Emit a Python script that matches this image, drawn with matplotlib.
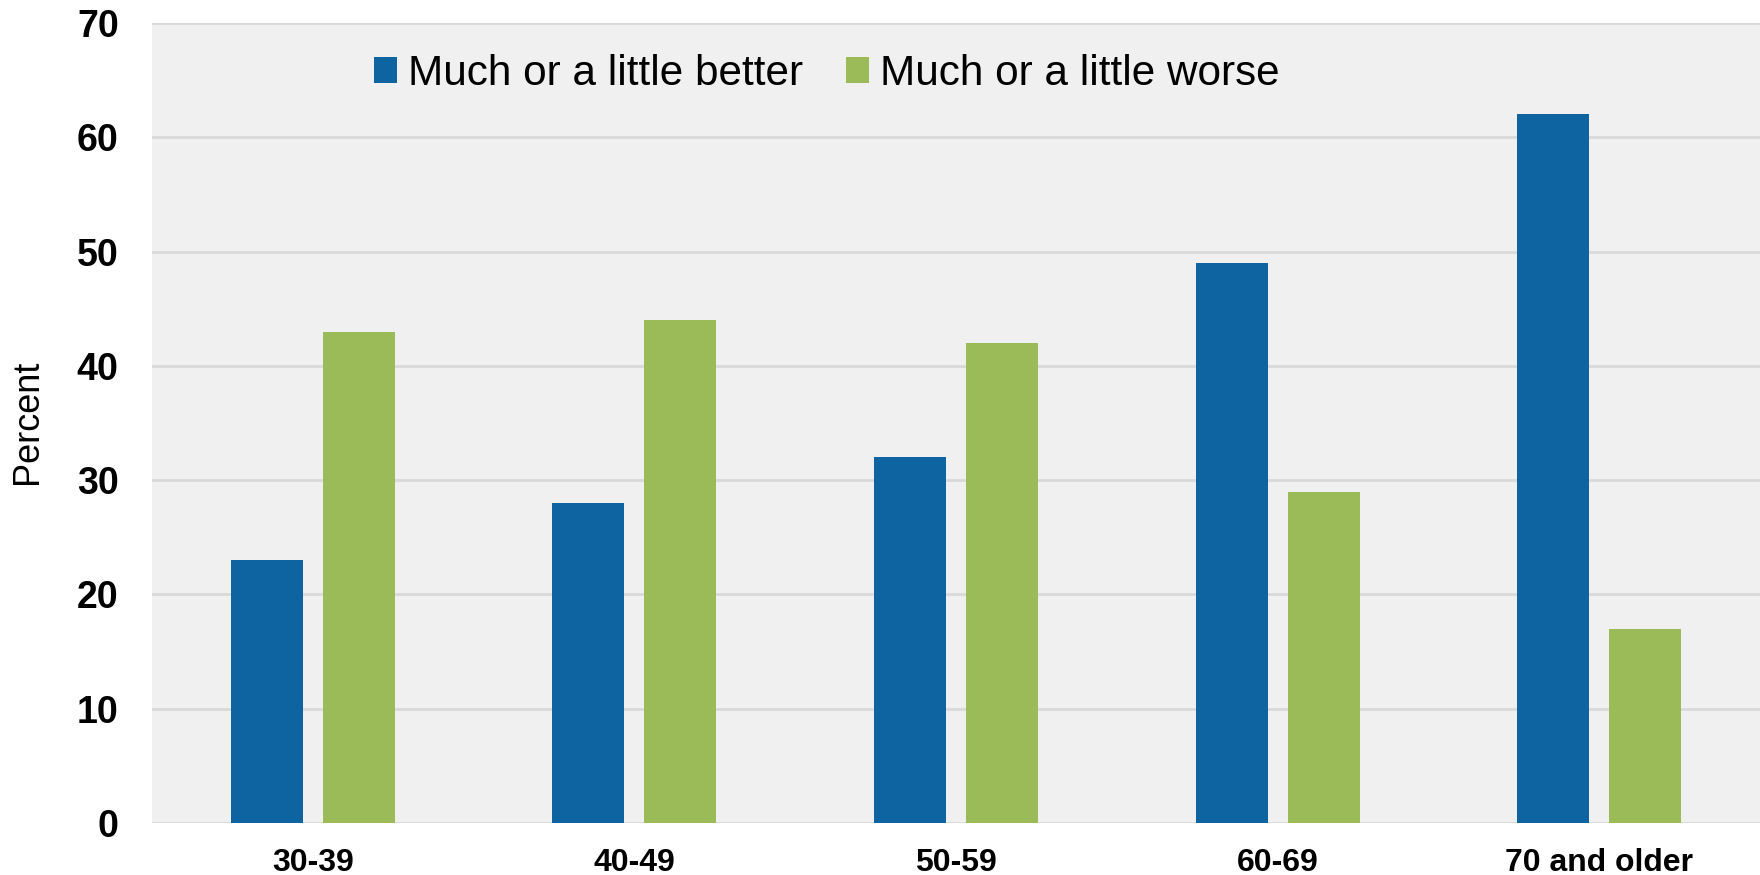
import numpy as np
import matplotlib
matplotlib.use("Agg")
import matplotlib.pyplot as plt

age_groups = ["30-39", "40-49", "50-59", "60-69", "70 and older"]
better = [23, 28, 32, 49, 62]
worse = [43, 44, 42, 29, 17]
series_names = ["Much or a little better", "Much or a little worse"]

plt.rcParams['font.family'] = ['Liberation Sans', 'DejaVu Sans']

fig = plt.figure(figsize=(17.6, 8.75), dpi=100)
ax = fig.add_axes([152 / 1760, 1 - 823 / 875, 1 - 152 / 1760, 800 / 875])
ax.set_facecolor('#f0f0f0')

x = np.arange(len(age_groups))
w = 0.224
off = 0.143
ax.bar(x - off, better, w, color='#0e64a0', label=series_names[0], zorder=3)
ax.bar(x + off, worse, w, color='#9bbb59', label=series_names[1], zorder=3)

ax.set_xlim(-0.5, len(age_groups) - 0.5)
ax.set_ylim(0, 70)
ax.set_yticks(range(0, 71, 10))
ax.yaxis.grid(True, color='#d9d9d9', linewidth=2, zorder=0)
ax.set_axisbelow(True)
for s in ax.spines.values():
    s.set_visible(False)

ax.set_xticks(x)
ax.set_xticklabels(age_groups, fontsize=23, fontweight='bold')
ax.tick_params(axis='x', length=0, pad=18)
ax.tick_params(axis='y', length=0, pad=24, labelsize=27)
for t in ax.get_yticklabels():
    t.set_fontweight('bold')

# axis title placed in figure coords, near the left edge
fig.text(27 / 1760, 1 - 422 / 875, "Percent", rotation=90, fontsize=26,
         ha='center', va='center')

ax.legend(loc='center left', bbox_to_anchor=(374 / 1760, 1 - 74 / 875),
          bbox_transform=fig.transFigure, ncol=2, frameon=False, fontsize=30.4,
          handlelength=0.55, handleheight=0.55, handletextpad=0.26,
          columnspacing=1.0, borderpad=0, borderaxespad=0)

fig.savefig("out.png", dpi=100)
